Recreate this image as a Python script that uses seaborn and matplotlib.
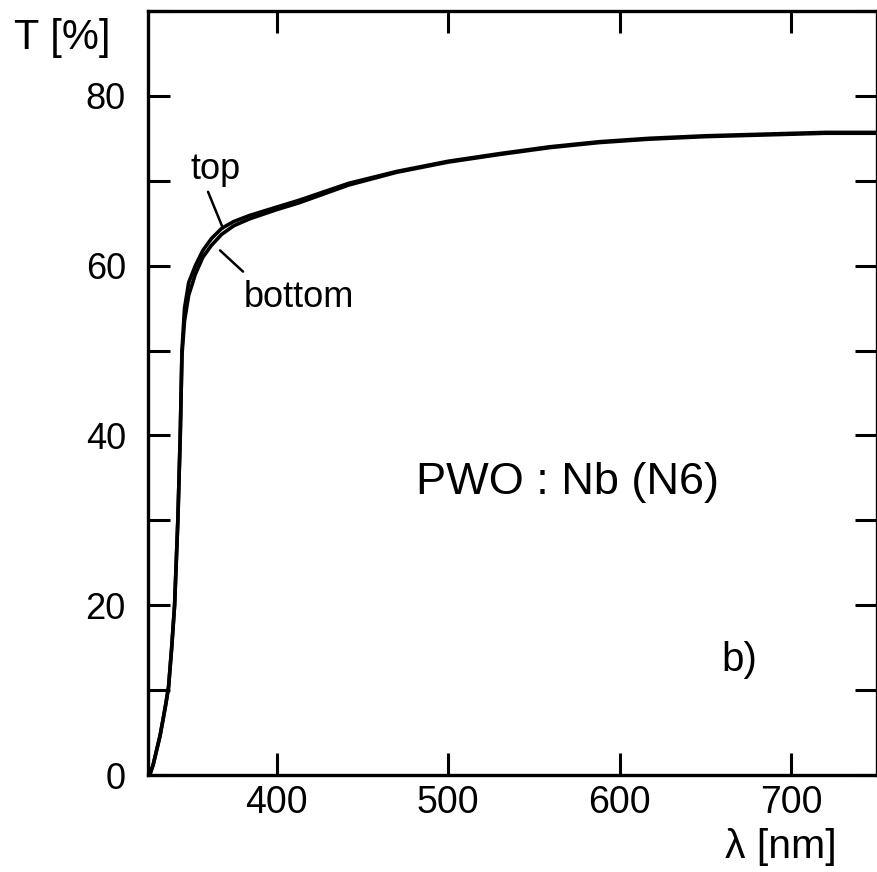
import matplotlib
matplotlib.use("Agg")
import matplotlib.pyplot as plt
import seaborn as sns
import pandas as pd
from matplotlib.ticker import MultipleLocator, FixedLocator

# ---- data ----
wavelength_top = [326, 328, 330, 332, 334, 335.5, 337, 338.8, 340.5, 342.4, 343.8, 344.8, 346.3, 348.7,
                  352.6, 357, 362, 368, 375, 384, 400, 413, 442, 470, 500, 530, 559, 588, 617, 650,
                  685, 720, 750]
trans_top = [0, 1.2, 2.9, 4.6, 6.8, 8.5, 10.4, 15, 20, 30, 40, 50, 55, 58,
             60, 61.8, 63.2, 64.4, 65.2, 65.9, 66.9, 67.7, 69.7, 71.1, 72.3, 73.2, 74.0, 74.6, 75.0, 75.3,
             75.5, 75.7, 75.7]

wavelength_bottom = [326, 328, 330, 332, 334, 335.5, 337, 338.8, 340.5, 342.4, 343.8, 344.8, 346.3, 348.7,
                     352.6, 357, 362, 368, 375, 384, 400, 413, 442, 470, 500, 530, 559, 588, 617, 650,
                     685, 720, 750]
trans_bottom = [0, 1.2, 2.9, 4.6, 6.8, 8.5, 10.4, 15, 20, 30, 40, 49.5, 53.5, 56.5,
                59.0, 61.0, 62.4, 63.7, 64.7, 65.5, 66.6, 67.4, 69.5, 71.0, 72.2, 73.1, 73.9, 74.5, 74.9, 75.2,
                75.4, 75.6, 75.6]

x_ticks = [400, 500, 600, 700]
y_ticks = [0, 20, 40, 60, 80]

df = pd.concat([
    pd.DataFrame({"wl": wavelength_top, "T": trans_top, "side": "top"}),
    pd.DataFrame({"wl": wavelength_bottom, "T": trans_bottom, "side": "bottom"}),
])

sns.set_theme(style="white")
plt.rcParams["font.family"] = ["Liberation Sans", "DejaVu Sans"]
plt.rcParams["text.color"] = "black"
plt.rcParams["xtick.color"] = "black"
plt.rcParams["ytick.color"] = "black"
plt.rcParams["xtick.labelcolor"] = "black"
plt.rcParams["ytick.labelcolor"] = "black"

fig = plt.figure(figsize=(8.78, 8.72), dpi=100)
ax = fig.add_axes([148 / 878, 1 - 775 / 872, (877 - 148) / 878, (775 - 11) / 872])

sns.lineplot(data=df, x="wl", y="T", hue="side", palette={"top": "black", "bottom": "black"},
             linewidth=2.6, legend=False, ax=ax, sort=False, estimator=None)

ax.set_xlim(325, 750)
ax.set_ylim(0, 90)
ax.set_xlabel("")
ax.set_ylabel("")

ax.xaxis.set_major_locator(FixedLocator(x_ticks))
ax.yaxis.set_major_locator(FixedLocator(y_ticks))
ax.yaxis.set_minor_locator(MultipleLocator(10))

ax.tick_params(axis="both", which="both", direction="in", length=16, width=2.2, color="black",
               top=True, right=True, bottom=True, left=True)
ax.tick_params(axis="x", which="major", labelsize=27, pad=7, labelcolor="black")
ax.tick_params(axis="y", which="major", labelsize=26, pad=16, labelcolor="black")
ax.tick_params(axis="x", which="minor", bottom=False, top=False)

for s in ax.spines.values():
    s.set_visible(True)
    s.set_color("black")
    s.set_linewidth(2.4)

# axis titles
fig.text(62 / 878, 1 - 38 / 872, "T [%]", fontsize=30, ha="center", va="center", color="black")
fig.text(781 / 878, 1 - 847 / 872, "λ [nm]", fontsize=29.5, ha="center", va="center", color="black")

# annotations
ax.text(364.5, 71.3, "top", fontsize=26, ha="center", va="center", color="black")
ax.text(412.8, 56.3, "bottom", fontsize=26, ha="center", va="center", color="black")
ax.plot([360.0, 368.7], [68.7, 64.4], color="black", linewidth=1.8)
ax.plot([367.0, 380.4], [61.8, 59.3], color="black", linewidth=1.8)
ax.text(569.4, 34.5, "PWO : Nb (N6)", fontsize=32.5, ha="center", va="center", color="black")
ax.text(669.5, 13.5, "b)", fontsize=29, ha="center", va="center", color="black")

fig.savefig("out.png", dpi=100)
